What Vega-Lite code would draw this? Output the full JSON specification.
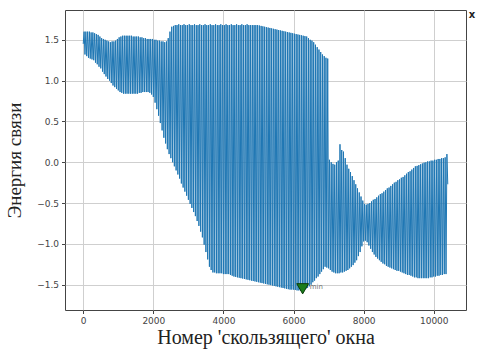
{
  "$schema": "https://vega.github.io/schema/vega-lite/v6.json",
  "width": 401,
  "height": 300,
  "autosize": "none",
  "padding": {"left": 65, "top": 10, "right": 12, "bottom": 41},
  "background": "white",
  "config": {
    "view": {"stroke": "#444", "strokeWidth": 1},
    "axis": {
      "grid": true, "gridColor": "#cfcfcf", "gridWidth": 1,
      "domain": false, "tickColor": "#444", "tickSize": 3.5, "tickWidth": 1,
      "labelFont": "DejaVu Sans", "labelFontSize": 9, "labelColor": "#444", "labelPadding": 3,
      "titleFont": "Liberation Serif", "titleFontSize": 19, "titleFontWeight": "normal", "titleColor": "#222"
    }
  },
  "datasets": {
    "series": [
      {"x":0,"y":1.45},{"x":25,"y":1.60},{"x":50,"y":1.32},{"x":75,"y":1.60},{"x":100,"y":1.30},{"x":125,"y":1.60},{"x":150,"y":1.28},{"x":175,"y":1.60},
      {"x":200,"y":1.27},{"x":225,"y":1.59},{"x":250,"y":1.26},{"x":275,"y":1.59},{"x":300,"y":1.25},{"x":325,"y":1.58},{"x":350,"y":1.22},{"x":375,"y":1.57},
      {"x":400,"y":1.20},{"x":425,"y":1.56},{"x":450,"y":1.17},{"x":475,"y":1.54},{"x":500,"y":1.15},{"x":525,"y":1.52},{"x":550,"y":1.11},{"x":575,"y":1.51},
      {"x":600,"y":1.08},{"x":625,"y":1.50},{"x":650,"y":1.05},{"x":675,"y":1.49},{"x":700,"y":1.02},{"x":725,"y":1.48},{"x":750,"y":1.00},{"x":775,"y":1.47},
      {"x":800,"y":0.97},{"x":825,"y":1.48},{"x":850,"y":0.94},{"x":875,"y":1.48},{"x":900,"y":0.92},{"x":925,"y":1.49},{"x":950,"y":0.90},{"x":975,"y":1.51},
      {"x":1000,"y":0.88},{"x":1025,"y":1.53},{"x":1050,"y":0.86},{"x":1075,"y":1.54},{"x":1100,"y":0.85},{"x":1125,"y":1.55},{"x":1150,"y":0.84},{"x":1175,"y":1.55},
      {"x":1200,"y":0.84},{"x":1225,"y":1.55},{"x":1250,"y":0.84},{"x":1275,"y":1.55},{"x":1300,"y":0.84},{"x":1325,"y":1.55},{"x":1350,"y":0.84},{"x":1375,"y":1.55},
      {"x":1400,"y":0.84},{"x":1425,"y":1.54},{"x":1450,"y":0.84},{"x":1475,"y":1.54},{"x":1500,"y":0.84},{"x":1525,"y":1.54},{"x":1550,"y":0.84},{"x":1575,"y":1.54},
      {"x":1600,"y":0.85},{"x":1625,"y":1.53},{"x":1650,"y":0.85},{"x":1675,"y":1.53},{"x":1700,"y":0.86},{"x":1725,"y":1.52},{"x":1750,"y":0.86},{"x":1775,"y":1.52},
      {"x":1800,"y":0.86},{"x":1825,"y":1.51},{"x":1850,"y":0.86},{"x":1875,"y":1.51},{"x":1900,"y":0.85},{"x":1925,"y":1.51},{"x":1950,"y":0.83},{"x":1975,"y":1.51},
      {"x":2000,"y":0.80},{"x":2025,"y":1.50},{"x":2050,"y":0.73},{"x":2075,"y":1.50},{"x":2100,"y":0.65},{"x":2125,"y":1.49},{"x":2150,"y":0.57},{"x":2175,"y":1.49},
      {"x":2200,"y":0.48},{"x":2225,"y":1.48},{"x":2250,"y":0.39},{"x":2275,"y":1.48},{"x":2300,"y":0.30},{"x":2325,"y":1.47},{"x":2350,"y":0.23},{"x":2375,"y":1.48},
      {"x":2400,"y":0.16},{"x":2425,"y":1.52},{"x":2450,"y":0.10},{"x":2475,"y":1.60},{"x":2500,"y":0.05},{"x":2525,"y":1.66},{"x":2550,"y":0.00},{"x":2575,"y":1.67},
      {"x":2600,"y":-0.05},{"x":2625,"y":1.68},{"x":2650,"y":-0.10},{"x":2675,"y":1.68},{"x":2700,"y":-0.15},{"x":2725,"y":1.69},{"x":2750,"y":-0.20},{"x":2775,"y":1.68},
      {"x":2800,"y":-0.26},{"x":2825,"y":1.68},{"x":2850,"y":-0.31},{"x":2875,"y":1.69},{"x":2900,"y":-0.36},{"x":2925,"y":1.68},{"x":2950,"y":-0.41},{"x":2975,"y":1.68},
      {"x":3000,"y":-0.46},{"x":3025,"y":1.69},{"x":3050,"y":-0.51},{"x":3075,"y":1.68},{"x":3100,"y":-0.56},{"x":3125,"y":1.68},{"x":3150,"y":-0.61},{"x":3175,"y":1.69},
      {"x":3200,"y":-0.66},{"x":3225,"y":1.68},{"x":3250,"y":-0.72},{"x":3275,"y":1.68},{"x":3300,"y":-0.78},{"x":3325,"y":1.69},{"x":3350,"y":-0.85},{"x":3375,"y":1.68},
      {"x":3400,"y":-0.92},{"x":3425,"y":1.68},{"x":3450,"y":-1.01},{"x":3475,"y":1.69},{"x":3500,"y":-1.10},{"x":3525,"y":1.68},{"x":3550,"y":-1.19},{"x":3575,"y":1.68},
      {"x":3600,"y":-1.28},{"x":3625,"y":1.69},{"x":3650,"y":-1.32},{"x":3675,"y":1.68},{"x":3700,"y":-1.35},{"x":3725,"y":1.68},{"x":3750,"y":-1.35},{"x":3775,"y":1.69},
      {"x":3800,"y":-1.36},{"x":3825,"y":1.68},{"x":3850,"y":-1.36},{"x":3875,"y":1.68},{"x":3900,"y":-1.36},{"x":3925,"y":1.69},{"x":3950,"y":-1.36},{"x":3975,"y":1.68},
      {"x":4000,"y":-1.37},{"x":4025,"y":1.68},{"x":4050,"y":-1.37},{"x":4075,"y":1.69},{"x":4100,"y":-1.37},{"x":4125,"y":1.68},{"x":4150,"y":-1.37},{"x":4175,"y":1.68},
      {"x":4200,"y":-1.38},{"x":4225,"y":1.69},{"x":4250,"y":-1.39},{"x":4275,"y":1.68},{"x":4300,"y":-1.40},{"x":4325,"y":1.68},{"x":4350,"y":-1.405},{"x":4375,"y":1.69},
      {"x":4400,"y":-1.41},{"x":4425,"y":1.68},{"x":4450,"y":-1.415},{"x":4475,"y":1.68},{"x":4500,"y":-1.42},{"x":4525,"y":1.69},{"x":4550,"y":-1.425},{"x":4575,"y":1.68},
      {"x":4600,"y":-1.43},{"x":4625,"y":1.68},{"x":4650,"y":-1.435},{"x":4675,"y":1.69},{"x":4700,"y":-1.44},{"x":4725,"y":1.68},{"x":4750,"y":-1.445},{"x":4775,"y":1.68},
      {"x":4800,"y":-1.45},{"x":4825,"y":1.68},{"x":4850,"y":-1.455},{"x":4875,"y":1.68},{"x":4900,"y":-1.46},{"x":4925,"y":1.68},{"x":4950,"y":-1.465},{"x":4975,"y":1.68},
      {"x":5000,"y":-1.47},{"x":5025,"y":1.675},{"x":5050,"y":-1.475},{"x":5075,"y":1.67},{"x":5100,"y":-1.48},{"x":5125,"y":1.665},{"x":5150,"y":-1.485},{"x":5175,"y":1.66},
      {"x":5200,"y":-1.49},{"x":5225,"y":1.655},{"x":5250,"y":-1.495},{"x":5275,"y":1.65},{"x":5300,"y":-1.50},{"x":5325,"y":1.645},{"x":5350,"y":-1.505},{"x":5375,"y":1.64},
      {"x":5400,"y":-1.51},{"x":5425,"y":1.635},{"x":5450,"y":-1.515},{"x":5475,"y":1.63},{"x":5500,"y":-1.52},{"x":5525,"y":1.625},{"x":5550,"y":-1.525},{"x":5575,"y":1.62},
      {"x":5600,"y":-1.53},{"x":5625,"y":1.615},{"x":5650,"y":-1.535},{"x":5675,"y":1.61},{"x":5700,"y":-1.54},{"x":5725,"y":1.605},{"x":5750,"y":-1.545},{"x":5775,"y":1.60},
      {"x":5800,"y":-1.55},{"x":5825,"y":1.595},{"x":5850,"y":-1.555},{"x":5875,"y":1.59},{"x":5900,"y":-1.56},{"x":5925,"y":1.585},{"x":5950,"y":-1.56},{"x":5975,"y":1.58},
      {"x":6000,"y":-1.56},{"x":6025,"y":1.575},{"x":6050,"y":-1.565},{"x":6075,"y":1.57},{"x":6100,"y":-1.57},{"x":6125,"y":1.565},{"x":6150,"y":-1.57},{"x":6175,"y":1.56},
      {"x":6200,"y":-1.57},{"x":6225,"y":1.555},{"x":6250,"y":-1.565},{"x":6275,"y":1.55},{"x":6300,"y":-1.56},{"x":6325,"y":1.545},{"x":6350,"y":-1.55},{"x":6375,"y":1.54},
      {"x":6400,"y":-1.54},{"x":6425,"y":1.52},{"x":6450,"y":-1.52},{"x":6475,"y":1.50},{"x":6500,"y":-1.50},{"x":6525,"y":1.49},{"x":6550,"y":-1.47},{"x":6575,"y":1.47},
      {"x":6600,"y":-1.45},{"x":6625,"y":1.44},{"x":6650,"y":-1.42},{"x":6675,"y":1.41},{"x":6700,"y":-1.40},{"x":6725,"y":1.38},{"x":6750,"y":-1.37},{"x":6775,"y":1.35},
      {"x":6800,"y":-1.34},{"x":6825,"y":1.32},{"x":6850,"y":-1.31},{"x":6875,"y":1.30},{"x":6900,"y":-1.28},{"x":6925,"y":1.28},{"x":6950,"y":-1.29},{"x":6975,"y":1.27},
      {"x":7000,"y":-1.30},{"x":7025,"y":0.03},{"x":7050,"y":-1.32},{"x":7075,"y":0.00},{"x":7100,"y":-1.34},{"x":7125,"y":-0.02},{"x":7150,"y":-1.35},{"x":7175,"y":-0.03},
      {"x":7200,"y":-1.36},{"x":7225,"y":0.00},{"x":7250,"y":-1.36},{"x":7275,"y":0.02},{"x":7300,"y":-1.36},{"x":7325,"y":0.22},{"x":7350,"y":-1.35},{"x":7375,"y":0.15},
      {"x":7400,"y":-1.35},{"x":7425,"y":0.13},{"x":7450,"y":-1.34},{"x":7475,"y":0.05},{"x":7500,"y":-1.33},{"x":7525,"y":-0.03},{"x":7550,"y":-1.32},{"x":7575,"y":-0.08},
      {"x":7600,"y":-1.30},{"x":7625,"y":-0.12},{"x":7650,"y":-1.28},{"x":7675,"y":-0.17},{"x":7700,"y":-1.26},{"x":7725,"y":-0.22},{"x":7750,"y":-1.23},{"x":7775,"y":-0.27},
      {"x":7800,"y":-1.20},{"x":7825,"y":-0.32},{"x":7850,"y":-1.15},{"x":7875,"y":-0.37},{"x":7900,"y":-1.10},{"x":7925,"y":-0.42},{"x":7950,"y":-1.03},{"x":7975,"y":-0.47},
      {"x":8000,"y":-0.97},{"x":8025,"y":-0.51},{"x":8050,"y":-0.96},{"x":8075,"y":-0.52},{"x":8100,"y":-0.98},{"x":8125,"y":-0.51},{"x":8150,"y":-1.02},{"x":8175,"y":-0.50},
      {"x":8200,"y":-1.06},{"x":8225,"y":-0.48},{"x":8250,"y":-1.10},{"x":8275,"y":-0.46},{"x":8300,"y":-1.13},{"x":8325,"y":-0.45},{"x":8350,"y":-1.16},{"x":8375,"y":-0.43},
      {"x":8400,"y":-1.18},{"x":8425,"y":-0.41},{"x":8450,"y":-1.20},{"x":8475,"y":-0.39},{"x":8500,"y":-1.22},{"x":8525,"y":-0.38},{"x":8550,"y":-1.24},{"x":8575,"y":-0.36},
      {"x":8600,"y":-1.25},{"x":8625,"y":-0.34},{"x":8650,"y":-1.27},{"x":8675,"y":-0.32},{"x":8700,"y":-1.28},{"x":8725,"y":-0.31},{"x":8750,"y":-1.29},{"x":8775,"y":-0.29},
      {"x":8800,"y":-1.30},{"x":8825,"y":-0.27},{"x":8850,"y":-1.31},{"x":8875,"y":-0.25},{"x":8900,"y":-1.32},{"x":8925,"y":-0.24},{"x":8950,"y":-1.33},{"x":8975,"y":-0.22},
      {"x":9000,"y":-1.33},{"x":9025,"y":-0.21},{"x":9050,"y":-1.34},{"x":9075,"y":-0.19},{"x":9100,"y":-1.35},{"x":9125,"y":-0.18},{"x":9150,"y":-1.36},{"x":9175,"y":-0.16},
      {"x":9200,"y":-1.37},{"x":9225,"y":-0.14},{"x":9250,"y":-1.38},{"x":9275,"y":-0.12},{"x":9300,"y":-1.38},{"x":9325,"y":-0.11},{"x":9350,"y":-1.39},{"x":9375,"y":-0.09},
      {"x":9400,"y":-1.40},{"x":9425,"y":-0.07},{"x":9450,"y":-1.41},{"x":9475,"y":-0.05},{"x":9500,"y":-1.41},{"x":9525,"y":-0.045},{"x":9550,"y":-1.42},{"x":9575,"y":-0.035},
      {"x":9600,"y":-1.42},{"x":9625,"y":-0.025},{"x":9650,"y":-1.42},{"x":9675,"y":-0.015},{"x":9700,"y":-1.42},{"x":9725,"y":-0.005},{"x":9750,"y":-1.42},{"x":9775,"y":0.00},
      {"x":9800,"y":-1.42},{"x":9825,"y":0.01},{"x":9850,"y":-1.42},{"x":9875,"y":0.01},{"x":9900,"y":-1.41},{"x":9925,"y":0.02},{"x":9950,"y":-1.41},{"x":9975,"y":0.02},
      {"x":10000,"y":-1.40},{"x":10025,"y":0.03},{"x":10050,"y":-1.40},{"x":10075,"y":0.03},{"x":10100,"y":-1.39},{"x":10125,"y":0.04},{"x":10150,"y":-1.39},{"x":10175,"y":0.04},
      {"x":10200,"y":-1.38},{"x":10225,"y":0.05},{"x":10250,"y":-1.38},{"x":10275,"y":0.05},{"x":10300,"y":-1.37},{"x":10325,"y":0.06},{"x":10350,"y":-1.37},{"x":10375,"y":0.10},
      {"x":10400,"y":-0.27}
    ],
    "marker": [{"x": 6260, "y": -1.55, "label": "min"}],
    "corner": [{"x": 11090, "y": 1.80, "label": "x"}]
  },
  "layer": [
    {
      "data": {"name": "series"},
      "mark": {"type": "line", "color": "#1f77b4", "strokeWidth": 1, "clip": true},
      "encoding": {
        "x": {"field": "x", "type": "quantitative",
              "scale": {"domain": [-520, 10920], "nice": false, "zero": false},
              "axis": {"values": [0, 2000, 4000, 6000, 8000, 10000], "format": "d", "title": "Номер 'скользящего' окна", "titlePadding": 2, "titleFontSize": 20}},
        "y": {"field": "y", "type": "quantitative",
              "scale": {"domain": [-1.81, 1.865], "nice": false, "zero": false},
              "axis": {"values": [-1.5, -1.0, -0.5, 0.0, 0.5, 1.0, 1.5], "format": ".1f", "title": "Энергия связи", "titlePadding": 12}}
      }
    },
    {
      "data": {"name": "marker"},
      "mark": {"type": "point", "shape": "triangle-down", "size": 140, "filled": true, "fill": "#1b7d1b", "stroke": "#0b3d0b", "strokeWidth": 1, "opacity": 1},
      "encoding": {
        "x": {"field": "x", "type": "quantitative"},
        "y": {"field": "y", "type": "quantitative"}
      }
    },
    {
      "data": {"name": "marker"},
      "mark": {"type": "text", "align": "left", "baseline": "middle", "dx": 7, "dy": -2, "font": "DejaVu Sans", "fontSize": 7, "color": "#777"},
      "encoding": {
        "x": {"field": "x", "type": "quantitative"},
        "y": {"field": "y", "type": "quantitative"},
        "text": {"field": "label"}
      }
    },
    {
      "data": {"name": "corner"},
      "mark": {"type": "text", "align": "center", "baseline": "middle", "font": "DejaVu Sans", "fontSize": 10, "fontWeight": "bold", "color": "#222", "clip": false},
      "encoding": {
        "x": {"field": "x", "type": "quantitative"},
        "y": {"field": "y", "type": "quantitative"},
        "text": {"field": "label"}
      }
    }
  ]
}
